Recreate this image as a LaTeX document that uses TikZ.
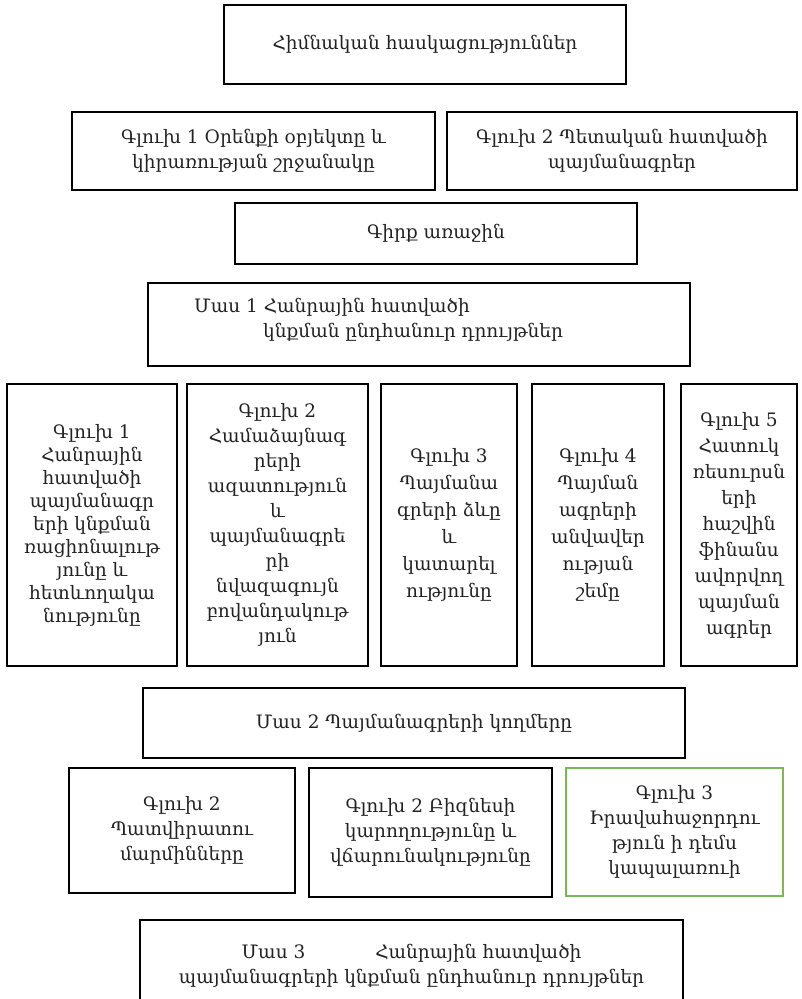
\documentclass[tikz,border=0pt]{standalone}
\usepackage{fontspec}
\newfontfamily\armfont{DejaVu Serif}
\usepackage{tikz}
\definecolor{txtgray}{HTML}{222222}
\definecolor{boxgreen}{HTML}{7CB65A}
\tikzset{blk/.style = {draw, line width = 1.5, inner sep = 0, outer sep = 0, align = center,
    text = txtgray, font = \armfont\fontsize{18.5}{25}\selectfont}}
\tikzset{tall/.style = {blk, minimum height = 282}}

\begin{document}
\begin{tikzpicture}[x=1pt, y=-1pt]
    \useasboundingbox (0, 0) rectangle (801, 999);
    \clip (0, 0) rectangle (801, 999);

    \node [blk, minimum width = 402, minimum height = 79] (hask) at (425, 44.5) {Հիմնական հասկացություններ};
    \node [blk, minimum width = 363, minimum height = 78] (orenq) at (253.5, 151) {Գլուխ 1 Օրենքի օբյեկտը և\\կիրառության շրջանակը};
    \node [blk, minimum width = 350, minimum height = 78] (petak) at (622, 151) {Գլուխ 2 Պետական հատվածի\\պայմանագրեր};
    \node [blk, minimum width = 402, minimum height = 61] (girq) at (436, 233.5) {Գիրք առաջին};

    \node [blk, minimum width = 542, minimum height = 83] (mas1) at (419, 324.5) {};
    \node [text = txtgray, font = \armfont\fontsize{18.5}{25}\selectfont, align = left, anchor = west, inner sep = 0]
      (mas1txt) at (194, 320) {Մաս 1 Հանրային հատվածի\\\hspace*{69pt}կնքման ընդհանուր դրույթներ};

    % gluxner, masn arajin
    \node [tall, minimum width = 170, font = \armfont\fontsize{18.5}{23}\selectfont] (gl1) at (92, 525) {Գլուխ 1\\Հանրային\\հատվածի\\պայմանագր\\երի կնքման\\ռացիոնալութ\\յունը և\\հետևողակա\\նությունը};
    \node [tall, minimum width = 181] (gl2) at (277.5, 525) {Գլուխ 2\\Համաձայնագ\\րերի\\ազատություն\\և\\պայմանագրե\\րի\\նվազագույն\\բովանդակութ\\յուն};
    \node [tall, minimum width = 136, font = \armfont\fontsize{18.5}{27}\selectfont] (gl3) at (449, 525) {Գլուխ 3\\Պայմանա\\գրերի ձևը\\և\\կատարել\\ությունը};
    \node [tall, minimum width = 132, font = \armfont\fontsize{18.5}{27}\selectfont] (gl4) at (598, 525) {Գլուխ 4\\Պայման\\ագրերի\\անվավեր\\ության\\շեմը};
    \node [tall, minimum width = 116, font = \armfont\fontsize{18.5}{26}\selectfont] (gl5) at (739, 525) {Գլուխ 5\\Հատուկ\\ռեսուրսն\\երի\\հաշվին\\ֆինանս\\ավորվող\\պայման\\ագրեր};

    \node [blk, minimum width = 542, minimum height = 70] (mas2) at (414, 723) {Մաս 2 Պայմանագրերի կողմերը};

    % gluxner, masn erkrord
    \node [blk, minimum width = 226, minimum height = 125] (patv) at (182, 830.5) {Գլուխ 2\\Պատվիրատու\\մարմինները};
    \node [blk, minimum width = 243, minimum height = 129] (bizn) at (430.5, 832.5) {Գլուխ 2 Բիզնեսի\\կարողությունը և\\վճարունակությունը};
    \node [blk, draw = boxgreen, minimum width = 217, minimum height = 128] (irav) at (674.5, 832) {Գլուխ 3\\Իրավահաջորդու\\թյուն ի դեմս\\կապալառուի};

    \node [blk, minimum width = 543, minimum height = 92] (mas3) at (411.5, 966) {Մաս 3\hspace{70pt}Հանրային հատվածի\\պայմանագրերի կնքման ընդհանուր դրույթներ};
\end{tikzpicture}
\end{document}
